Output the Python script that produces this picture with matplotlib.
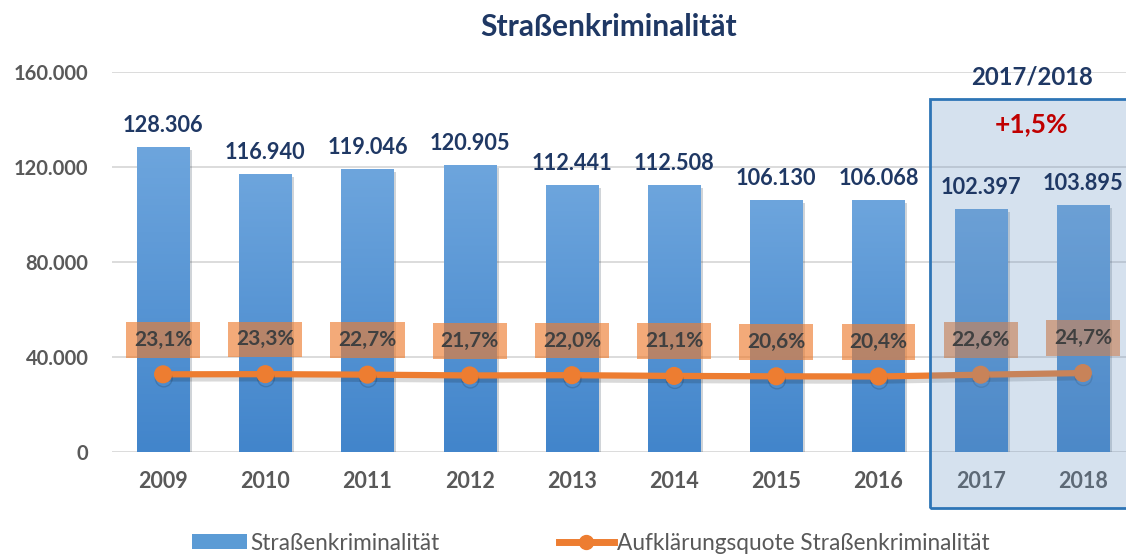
import matplotlib.pyplot as plt
import numpy as np
from matplotlib.colors import LinearSegmentedColormap
from matplotlib.lines import Line2D
from matplotlib.patches import Patch, Rectangle
from matplotlib.transforms import blended_transform_factory
import matplotlib.patheffects as pe

plt.rcParams["font.family"] = ["Lato", "DejaVu Sans"]

years = ["2009", "2010", "2011", "2012", "2013", "2014", "2015", "2016", "2017", "2018"]
faelle = [128306, 116940, 119046, 120905, 112441, 112508, 106130, 106068, 102397, 103895]
quote = [23.1, 23.3, 22.7, 21.7, 22.0, 21.1, 20.6, 20.4, 22.6, 24.7]
y_ticks = [0, 40000, 80000, 120000, 160000]

NAVY = "#1f3864"
GREY = "#595959"
ORANGE = "#ed7d31"

W, H = 1126, 556
fig = plt.figure(figsize=(W / 100, H / 100), dpi=100)
ax = fig.add_axes([112 / W, 1 - 452 / H, 1022 / W, 380 / H])

x = np.arange(len(years))
bars = ax.bar(x, faelle, width=0.51, color="#4a8bd0", zorder=2)
grad = LinearSegmentedColormap.from_list("bar", ["#4285cb", "#6da5dd"])
for b in bars:
    b.set_path_effects([pe.SimplePatchShadow(offset=(2, -2), alpha=0.2), pe.Normal()])
    x0, w, h = b.get_x(), b.get_width(), b.get_height()
    im = ax.imshow(np.linspace(0, 1, 100).reshape(-1, 1), extent=[x0, x0 + w, 0, h],
                   origin="lower", aspect="auto", cmap=grad, zorder=2.1)
    im.set_clip_path(b)

ax.set_xlim(-0.5, len(years) - 0.5)
ax.set_ylim(0, 160000)
ax.set_yticks(y_ticks)
ax.set_yticklabels([f"{v:,}".replace(",", ".") for v in y_ticks])
ax.set_xticks(x)
ax.set_xticklabels(years)
ax.tick_params(length=0, labelcolor=GREY)
ax.tick_params(axis="x", pad=14, labelsize=15.5)
ax.tick_params(axis="y", pad=17, labelsize=14.5)
for lab in ax.get_xticklabels() + ax.get_yticklabels():
    lab.set_fontweight("bold")
ax.yaxis.grid(True, color="#d9d9d9", lw=1.3, zorder=0)
ax.set_axisbelow(True)
for s in ax.spines.values():
    s.set_visible(False)

# secondary scale for the clearance rate
ax2 = ax.twinx()
ax2.set_ylim(-74, 401)
ax2.axis("off")
ax2.plot(x, quote, color=ORANGE, lw=4.5, marker="o", ms=12, zorder=2,
         path_effects=[pe.SimpleLineShadow(offset=(0.5, -3), alpha=0.15), pe.Normal()])

for xi, q in zip(x, quote):
    txt = f"{q:.1f}%".replace(".", ",")
    ax2.annotate(txt, (xi, q), xytext=(0, 25), textcoords="offset points",
                 ha="center", va="center", fontsize=15, fontweight="bold",
                 color=(0, 0, 0, 0), zorder=3,
                 bbox=dict(boxstyle="square,pad=0.38", fc=ORANGE, ec="none", alpha=0.65))
    ax2.annotate(txt, (xi, q), xytext=(0, 25), textcoords="offset points",
                 ha="center", va="center", fontsize=15, fontweight="bold",
                 color="#404040", zorder=6)

for xi, v in zip(x, faelle):
    ax2.annotate(f"{v:,}".replace(",", "."), (xi, v), xycoords=ax.transData,
                 xytext=(0, 8), textcoords="offset points", ha="center", va="bottom",
                 fontsize=15.7, fontweight="bold", color=NAVY, zorder=6)

# highlighted comparison 2017/2018
tr = blended_transform_factory(ax.transData, fig.transFigure)
y0, y1 = 1 - 508 / H, 1 - 99 / H
ax2.add_patch(Rectangle((7.5, y0), 3, y1 - y0, transform=tr, clip_on=False,
                        fc=(105 / 255, 148 / 255, 194 / 255), alpha=0.28, ec="none", zorder=4))
ax2.add_patch(Rectangle((7.5, y0), 3, y1 - y0, transform=tr, clip_on=False,
                        fc="none", ec="#2e75b6", lw=2, zorder=5))
ax2.text(8.5, 1 - 77 / H, "2017/2018", transform=tr, ha="center", va="center",
         fontsize=17.2, fontweight="bold", color=NAVY, zorder=6)
ax2.text(8.5, 1 - 124 / H, "+1,5%", transform=tr, ha="center", va="center",
         fontsize=19, fontweight="bold", color="#c00000", zorder=6)

fig.text(609 / W, 1 - 27 / H, "Straßenkriminalität", ha="center", va="center",
         fontsize=21.5, fontweight="bold", color=NAVY)

handles = [Patch(fc="#5b9bd5", ec="none"),
           Line2D([], [], color=ORANGE, lw=5, marker="o", ms=10)]
fig.legend(handles, ["Straßenkriminalität", "Aufklärungsquote Straßenkriminalität"],
           loc="center", bbox_to_anchor=(591 / W, 1 - 543 / H), ncol=2, frameon=False,
           fontsize=16.3, labelcolor=GREY, handlelength=2.4, handleheight=0.6,
           handletextpad=0.15, columnspacing=5.3)

fig.savefig("out.png", dpi=100)
